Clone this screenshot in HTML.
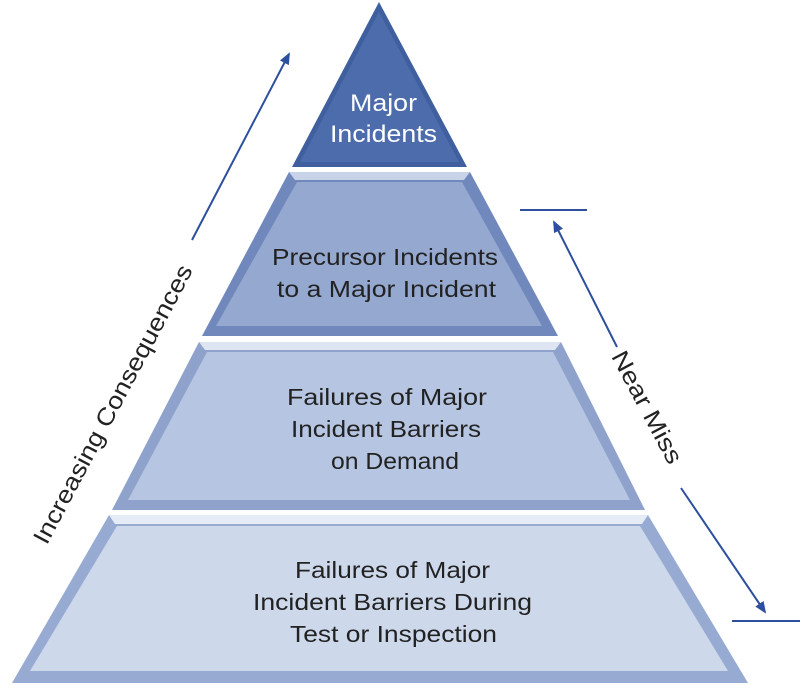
<!DOCTYPE html>
<html><head><style>
html,body{margin:0;padding:0;background:#fff;width:800px;height:688px;overflow:hidden}
svg text{font-family:"Liberation Sans",sans-serif}
</style></head><body>
<svg width="800" height="688" viewBox="0 0 800 688" xmlns="http://www.w3.org/2000/svg">
<defs>
<marker id="ah" markerWidth="12" markerHeight="12" refX="10" refY="6" orient="auto" markerUnits="userSpaceOnUse">
<path d="M0,1 L12,6 L0,11 z" fill="#2d4f9e"/></marker>
</defs>
<polygon points="379,2 292,167 467,167" fill="#3f5f9f"/>
<polygon points="379,12 300,162 459,162" fill="#4c6cab"/>
<polygon points="289,172 470,172 558,336 202,336" fill="#7088bb"/>
<polygon points="289,172 470,172 464,180 295,180" fill="#c8d3e8"/>
<polygon points="297,182 462,182 542,326 216,326" fill="#94a8d0"/>
<polygon points="199,342 561,342 645,510 112,510" fill="#8ea2cb"/>
<polygon points="199,342 561,342 555,350 205,350" fill="#dde5f2"/>
<polygon points="207,352 553,352 630,500 128,500" fill="#b6c5e1"/>
<polygon points="109,515 648,515 748,683 12,683" fill="#97abd2"/>
<polygon points="109,515 648,515 642,524 115,524" fill="#e6ecf6"/>
<polygon points="117,526 640,526 728,671 30,671" fill="#cdd8eb"/>
<g font-size="24" fill="#fff" lengthAdjust="spacingAndGlyphs">
<text x="350" y="111" textLength="67" lengthAdjust="spacingAndGlyphs">Major</text>
<text x="330" y="142" textLength="107" lengthAdjust="spacingAndGlyphs">Incidents</text>
</g>
<g font-size="23" fill="#222">
<text x="272" y="265" textLength="226" lengthAdjust="spacingAndGlyphs">Precursor Incidents</text>
<text x="277" y="297" textLength="219" lengthAdjust="spacingAndGlyphs">to a Major Incident</text>
<text x="287" y="405" textLength="200" lengthAdjust="spacingAndGlyphs">Failures of Major</text>
<text x="291" y="437" textLength="190" lengthAdjust="spacingAndGlyphs">Incident Barriers</text>
<text x="331" y="469" textLength="128" lengthAdjust="spacingAndGlyphs">on Demand</text>
<text x="295" y="578" textLength="195" lengthAdjust="spacingAndGlyphs">Failures of Major</text>
<text x="253" y="610" textLength="279" lengthAdjust="spacingAndGlyphs">Incident Barriers During</text>
<text x="290" y="642" textLength="207" lengthAdjust="spacingAndGlyphs">Test or Inspection</text>
</g>
<line x1="192" y1="240" x2="289" y2="54" stroke="#2d4f9e" stroke-width="2" marker-end="url(#ah)"/>
<text font-size="24" fill="#222" transform="translate(120,408) rotate(-62)" x="-156" y="0" textLength="312" lengthAdjust="spacingAndGlyphs">Increasing Consequences</text>
<line x1="520" y1="210" x2="587" y2="210" stroke="#2d4f9e" stroke-width="2"/>
<line x1="617" y1="347" x2="554" y2="222" stroke="#2d4f9e" stroke-width="2" marker-end="url(#ah)"/>
<text font-size="24" fill="#222" transform="translate(640,411) rotate(62)" x="-62" y="0" textLength="124" lengthAdjust="spacingAndGlyphs">Near Miss</text>
<line x1="681" y1="488" x2="765" y2="612" stroke="#2d4f9e" stroke-width="2" marker-end="url(#ah)"/>
<line x1="732" y1="621" x2="800" y2="621" stroke="#2d4f9e" stroke-width="2"/>
</svg>
</body></html>
